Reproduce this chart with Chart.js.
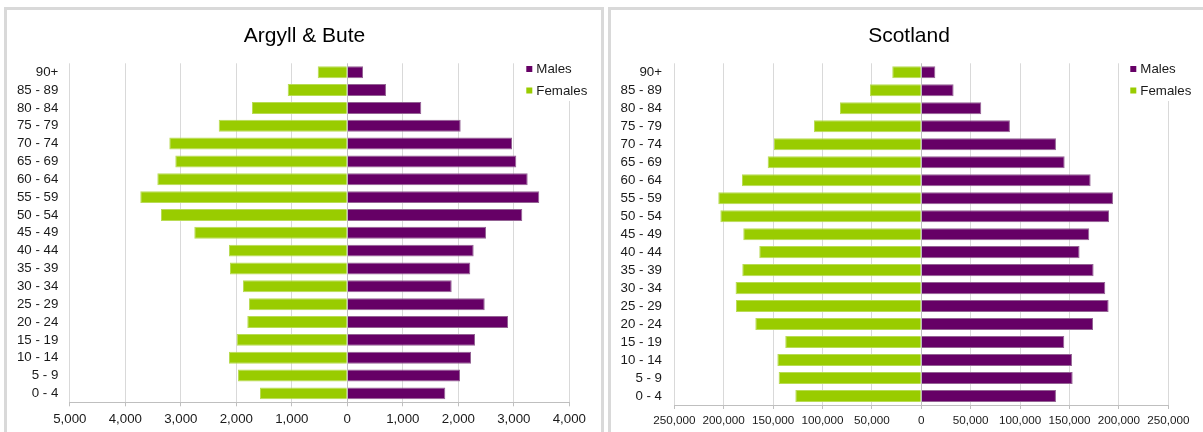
<!DOCTYPE html>
<html><head><meta charset="utf-8">
<script src="https://cdn.jsdelivr.net/npm/chart.js@4.4.1/dist/chart.umd.min.js"></script>
<style>
html,body{margin:0;padding:0;background:#fff;width:1203px;height:432px;overflow:hidden;position:relative;}
.panel{position:absolute;top:7px;border:3px solid #d9d9d9;background:#fff;box-sizing:border-box;}
#p1{left:4px;width:600px;height:440px;}
#p2{left:608px;width:610px;height:440px;}
canvas{position:absolute;top:0;}
#c1{left:0px;}
#c2{left:604px;}
</style></head><body>
<div class="panel" id="p1"></div><div class="panel" id="p2"></div>
<canvas id="c1" width="604" height="432"></canvas>
<canvas id="c2" width="599" height="432"></canvas>
<script>
const categories = ['0 - 4','5 - 9','10 - 14','15 - 19','20 - 24','25 - 29','30 - 34','35 - 39','40 - 44','45 - 49','50 - 54','55 - 59','60 - 64','65 - 69','70 - 74','75 - 79','80 - 84','85 - 89','90+'];
const seriesNames = ['Males','Females'];
const argyllMales   = [1766,2031,2229,2301,2896,2476,1881,2216,2277,2499,3153,3459,3250,3045,2968,2043,1333,697,283];
const argyllFemales = [1573,1969,2132,1993,1802,1771,1879,2114,2132,2757,3357,3730,3423,3099,3207,2317,1717,1074,533];
const scotlandMales   = [136300,153200,152500,144700,173800,189600,186200,174400,160200,170000,190000,194000,171400,145100,136300,89700,60700,32700,14200];
const scotlandFemales = [127500,144400,145700,137700,168000,187600,188000,181200,164000,180200,203400,205500,181500,155500,149100,108600,82300,51900,29400];
const argyllTicks = [-5000,4000,1000];      // min, max, step
const scotlandTicks = [-250000,250000,50000];
const titles = ['Argyll & Bute','Scotland'];
const colors = ['#660066','#99cc00'];
const borderColors = ['#946394','#b9dc55'];

const FONT = '"Liberation Sans", Arial, Helvetica, sans-serif';
const TEXT = '#1a1a1a';

const overlay = {
  id: 'overlay',
  afterDraw(chart, args, o) {
    const ctx = chart.ctx;
    ctx.save();
    ctx.font = '21px ' + FONT;
    ctx.fillStyle = '#000';
    ctx.textAlign = 'center';
    ctx.textBaseline = 'alphabetic';
    ctx.fillText(o.title, o.titleX, o.titleY);
    // legend
    ctx.fillStyle = '#fff';
    ctx.fillRect(o.legX - 4, 59, 72, 42);
    ctx.font = '13.3px ' + FONT;
    ctx.textAlign = 'left';
    ctx.textBaseline = 'middle';
    chart.data.datasets.forEach((ds, i) => {
      const y = 69 + i * 21.5;
      ctx.fillStyle = ds.backgroundColor;
      ctx.fillRect(o.legX, y - 3, 6, 6);
      ctx.fillStyle = TEXT;
      ctx.fillText(ds.label, o.legX + 10, y + 0.5);
    });
    ctx.restore();
  }
};

function makeChart(id, title, males, females, ticks, g) {
  const canvas = document.getElementById(id);
  const W = canvas.width, H = canvas.height;
  return new Chart(canvas, {
    type: 'bar',
    data: {
      labels: categories,
      datasets: [
        { label: seriesNames[0], data: males, backgroundColor: colors[0], borderColor: borderColors[0], borderWidth: 1 },
        { label: seriesNames[1], data: females.map(v => -v), backgroundColor: colors[1], borderColor: borderColors[1], borderWidth: 1 }
      ]
    },
    options: {
      indexAxis: 'y',
      responsive: false,
      animation: false,
      devicePixelRatio: 1,
      layout: { padding: { left: 0, right: W - g.plotRight, top: g.plotTop, bottom: 0 } },
      datasets: { bar: { barPercentage: 0.67, categoryPercentage: 1.0 } },
      plugins: {
        legend: { display: false },
        title: { display: false },
        tooltip: { enabled: false },
        overlay: { title: title, titleX: g.titleX, titleY: 42, legX: g.legX }
      },
      scales: {
        x: {
          stacked: true,
          min: ticks[0], max: ticks[1],
          ticks: {
            stepSize: ticks[2], autoSkip: false, maxRotation: 0, padding: 5,
            color: TEXT, font: { family: FONT, size: g.xFont },
            callback: v => Math.abs(v).toLocaleString('en-US')
          },
          grid: {
            color: c => (c.tick && c.tick.value === 0) ? '#bfbfbf' : '#d9d9d9',
            lineWidth: 1, drawTicks: true, tickLength: 4, tickColor: '#bfbfbf'
          },
          border: { display: true, color: '#bfbfbf', width: 1 },
          afterFit: s => { s.height = H - g.plotBottom; }
        },
        y: {
          stacked: true,
          reverse: true,
          ticks: { padding: g.catPad, color: TEXT, font: { family: FONT, size: 13.3 }, autoSkip: false },
          grid: { display: false, drawTicks: false },
          border: { display: false },
          afterFit: s => { s.width = g.plotLeft; }
        }
      }
    },
    plugins: [overlay]
  });
}

makeChart('c1', titles[0], argyllMales, argyllFemales, argyllTicks,
  { plotLeft: 69.8, plotRight: 569.3, plotTop: 63.3, plotBottom: 402.3, xFont: 13.3, catPad: 11.5, titleX: 304.5, legX: 526.3 });
makeChart('c2', titles[1], scotlandMales, scotlandFemales, scotlandTicks,
  { plotLeft: 70.3, plotRight: 564.3, plotTop: 63.3, plotBottom: 405, xFont: 11.7, catPad: 12.3, titleX: 305, legX: 526.3 });
</script>
</body></html>
